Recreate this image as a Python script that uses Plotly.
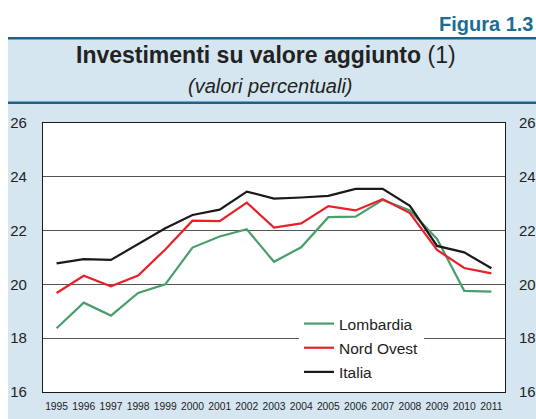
import plotly.graph_objects as go

years = list(range(1995, 2012))
italia = [20.78, 20.94, 20.91, 21.49, 22.09, 22.58, 22.78, 23.45, 23.19, 23.23, 23.29, 23.55, 23.55, 22.92, 21.43, 21.19, 20.60]
nord_ovest = [19.68, 20.32, 19.93, 20.33, 21.30, 22.37, 22.35, 23.04, 22.11, 22.27, 22.91, 22.75, 23.17, 22.65, 21.28, 20.61, 20.41]
lombardia = [18.37, 19.32, 18.84, 19.68, 20.00, 21.37, 21.78, 22.05, 20.84, 21.38, 22.50, 22.52, 23.14, 22.75, 21.69, 19.76, 19.73]
y_ticks = [16, 18, 20, 22, 24, 26]

W, H = 536, 419
ML, MR, MT, MB = 43, 31, 123, 27
PW, PH = W - ML - MR, H - MT - MB

def px(x):
    return (x - ML) / PW

def py(y):
    return (H - MB - y) / PH

FONT = "Liberation Sans, Arial, sans-serif"
LIGHT = "#d5e6f0"
DARK = "#1d6387"

fig = go.Figure()
series = [("Lombardia", lombardia, "#4a9e6b"),
          ("Nord Ovest", nord_ovest, "#e8202a"),
          ("Italia", italia, "#1a1a1a")]
for name, vals, col in series:
    fig.add_trace(go.Scatter(x=years, y=vals, name=name, mode="lines",
                             line=dict(color=col, width=2.2), legendgroup=name))
# right axis companion (invisible)
fig.add_trace(go.Scatter(x=years, y=italia, yaxis="y2", mode="lines",
                         line=dict(color="rgba(0,0,0,0)"), showlegend=False,
                         hoverinfo="skip"))

shapes = [
    dict(type="rect", xref="paper", yref="paper", x0=px(0), x1=px(W), y0=py(0), y1=py(37),
         fillcolor="white", line=dict(width=0), layer="below"),
    dict(type="rect", xref="paper", yref="paper", x0=px(0), x1=px(8), y0=py(H), y1=py(0),
         fillcolor="white", line=dict(width=0), layer="below"),
    dict(type="rect", xref="paper", yref="paper", x0=px(8), x1=px(W), y0=py(39.5), y1=py(37),
         fillcolor=DARK, line=dict(width=0), layer="below"),
    dict(type="rect", xref="paper", yref="paper", x0=px(8), x1=px(W), y0=py(104), y1=py(101.5),
         fillcolor=DARK, line=dict(width=0), layer="below"),
]

annotations = [
    dict(text="<b>Figura 1.3</b>", x=px(535), y=py(24), xref="paper", yref="paper",
         xanchor="right", yanchor="middle", showarrow=False,
         font=dict(family=FONT, size=20, color="#1b6d93")),
    dict(text="<b>Investimenti su valore aggiunto</b> (1)", x=px(266), y=py(55),
         xref="paper", yref="paper", xanchor="center", yanchor="middle", showarrow=False,
         font=dict(family=FONT, size=23, color="#222222")),
    dict(text="<i>(valori percentuali)</i>", x=px(270), y=py(86),
         xref="paper", yref="paper", xanchor="center", yanchor="middle", showarrow=False,
         font=dict(family=FONT, size=20, color="#222222")),
]

fig.update_layout(
    width=W, height=H,
    margin=dict(l=ML, r=MR, t=MT, b=MB, pad=0, autoexpand=False),
    paper_bgcolor=LIGHT, plot_bgcolor="white",
    font=dict(family=FONT, color="#222222"),
    shapes=shapes, annotations=annotations,
    xaxis=dict(range=[1994.5, 2011.5], tickmode="array", tickvals=years,
               ticktext=[str(y) for y in years], tickfont=dict(size=10.3, color="#222222"),
               showgrid=False, showline=True, linecolor="#1a1a1a", linewidth=1.2,
               mirror=True, ticks="outside", ticklen=5, tickcolor="rgba(0,0,0,0)",
               zeroline=False, fixedrange=True, automargin=False),
    yaxis=dict(range=[16, 26], tickvals=y_ticks, tickfont=dict(size=15, color="#222222"),
               showgrid=True, gridcolor="#555555", gridwidth=1,
               showline=True, linecolor="#1a1a1a", linewidth=1.2, mirror=True,
               ticks="outside", ticklen=12, tickcolor="rgba(0,0,0,0)",
               zeroline=False, fixedrange=True, automargin=False),
    yaxis2=dict(range=[16, 26], tickvals=y_ticks, tickfont=dict(size=15, color="#222222"),
                overlaying="y", side="right", showgrid=False, showline=False,
                ticks="outside", ticklen=10, tickcolor="rgba(0,0,0,0)",
                zeroline=False, fixedrange=True, automargin=False),
    legend=dict(x=px(299), y=py(307), xanchor="left", yanchor="top",
                bgcolor="white", borderwidth=0, tracegroupgap=1,
                font=dict(family=FONT, size=15.5, color="#222222"),
                itemwidth=30),
    showlegend=True,
)

fig.write_html(
    "out.html", config={"displayModeBar": False},
    post_script=("document.body.style.margin='0';"
                 "document.body.style.overflow='hidden';"
                 "document.documentElement.style.overflow='hidden';"))
